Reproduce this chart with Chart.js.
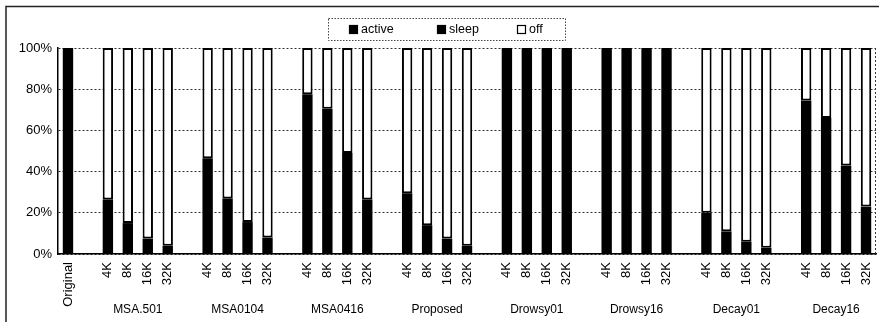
<!DOCTYPE html>
<html>
<head>
<meta charset="utf-8">
<script src="https://cdn.jsdelivr.net/npm/chart.js@4/dist/chart.umd.min.js"></script>
<style>
  html, body { margin: 0; padding: 0; background: #fff; }
  #wrap { width: 879px; height: 322px; }
</style>
</head>
<body>
<div id="wrap"><canvas id="c" width="879" height="322"></canvas></div>
<script>
// ---- data ----
const groupNames = ['MSA.501', 'MSA0104', 'MSA0416', 'Proposed', 'Drowsy01', 'Drowsy16', 'Decay01', 'Decay16'];
const sizeLabels = ['4K', '8K', '16K', '32K'];
const yTickValues = [0, 20, 40, 60, 80, 100];

// one entry per slot: Original, gap, then 8 groups of 4 separated by gaps
const activeValues = [100, null,
  26.5, 15, 7.5, 4, null,
  46.5, 27, 15.5, 8, null,
  77.5, 70.5, 49, 26.5, null,
  29.5, 14, 7.5, 4, null,
  0, 0, 0, 0, null,
  0, 0, 0, 0, null,
  20, 11, 6, 3, null,
  74.5, 66, 43, 23];
const sleepValues = [0, null,
  0, 0, 0, 0, null,
  0, 0, 0, 0, null,
  0, 0, 0, 0, null,
  0, 0, 0, 0, null,
  100, 100, 100, 100, null,
  100, 100, 100, 100, null,
  0, 0, 0, 0, null,
  0, 0, 0, 0];
const offValues = [0, null,
  73.5, 85, 92.5, 96, null,
  53.5, 73, 84.5, 92, null,
  22.5, 29.5, 51, 73.5, null,
  70.5, 86, 92.5, 96, null,
  0, 0, 0, 0, null,
  0, 0, 0, 0, null,
  80, 89, 94, 97, null,
  25.5, 34, 57, 77];

// ---- build category labels ----
const categories = ['Original', ''];
groupNames.forEach((g, i) => {
  categories.push(...sizeLabels);
  if (i < groupNames.length - 1) categories.push('');
});
const groupCenters = groupNames.map((g, i) => 2 + i * 5 + 1.5);

const FONT = "'Liberation Sans', Arial, sans-serif";

const framePlugin = {
  id: 'frame',
  beforeDraw(chart) {
    // let rotated category labels extend below their axis box (no clipping)
    if (chart.scales.x) chart.scales.x.bottom = chart.height;
    const ctx = chart.ctx;
    ctx.save();
    ctx.fillStyle = '#fff';
    ctx.fillRect(0, 0, chart.width, chart.height);
    ctx.strokeStyle = '#222';
    ctx.lineWidth = 1.5;
    ctx.beginPath();
    ctx.moveTo(6, 322); ctx.lineTo(6, 6.5); ctx.lineTo(879, 6.5);
    ctx.stroke();
    ctx.restore();
  },
  afterDatasetsDraw(chart) {
    const ctx = chart.ctx, a = chart.chartArea;
    ctx.save();
    ctx.strokeStyle = '#333';
    ctx.lineWidth = 1;
    ctx.setLineDash([2, 2]);
    ctx.beginPath();
    ctx.moveTo(a.right - 0.5, a.top); ctx.lineTo(a.right - 0.5, a.bottom);
    ctx.stroke();
    ctx.restore();
  },
  afterDraw(chart) {
    // legend box
    const ctx = chart.ctx;
    ctx.save();
    ctx.strokeStyle = '#444';
    ctx.lineWidth = 1;
    ctx.setLineDash([1.5, 1.5]);
    ctx.strokeRect(328.5, 18.5, 237, 22);
    ctx.setLineDash([]);
    const xs = [349, 437, 517];
    ctx.font = '12.5px ' + FONT;
    ctx.textBaseline = 'middle';
    chart.data.datasets.forEach((ds, i) => {
      const x = xs[i];
      ctx.fillStyle = ds.backgroundColor;
      ctx.fillRect(x, 25.5, 8, 8);
      ctx.strokeStyle = '#000';
      ctx.lineWidth = 1.2;
      ctx.strokeRect(x + 0.5, 25.5, 8, 8);
      ctx.fillStyle = '#000';
      ctx.fillText(ds.label, x + 12, 30);
    });
    ctx.restore();
  }
};

new Chart(document.getElementById('c'), {
  type: 'bar',
  data: {
    labels: categories,
    datasets: [
      { label: 'active', data: activeValues, backgroundColor: '#000', borderWidth: 0 },
      { label: 'sleep', data: sleepValues, backgroundColor: '#000', borderWidth: 0 },
      { label: 'off', data: offValues, backgroundColor: '#fff', borderColor: '#000', borderWidth: 2, borderSkipped: false }
    ]
  },
  options: {
    responsive: false,
    animation: false,
    layout: { padding: { top: 48, right: 3, bottom: 6, left: 0 } },
    datasets: { bar: { categoryPercentage: 1.0, barPercentage: 0.52 } },
    plugins: { legend: { display: false }, tooltip: { enabled: false } },
    scales: {
      x: {
        stacked: true,
        grid: { display: false, drawTicks: false },
        border: { display: true, color: '#000', width: 1.5 },
        ticks: {
          autoSkip: false, minRotation: 90, maxRotation: 90, padding: 8,
          color: '#000', font: { family: FONT, size: 13 }
        },
        afterFit(axis) { axis.height = 42; axis.paddingLeft = 0; axis.paddingRight = 0; }
      },
      x2: {
        type: 'linear',
        position: 'bottom',
        offset: false,
        min: -0.5, max: 40.5,
        grid: { display: false, drawTicks: false },
        border: { display: false },
        afterBuildTicks(axis) { axis.ticks = groupCenters.map(v => ({ value: v })); },
        ticks: {
          autoSkip: false, maxRotation: 0, padding: 6,
          color: '#000', font: { family: FONT, size: 12 },
          callback: (v) => { const i = groupCenters.indexOf(v); return i >= 0 ? groupNames[i] : ''; }
        },
        afterFit(axis) { axis.height = 20; axis.paddingLeft = 0; axis.paddingRight = 0; }
      },
      y: {
        stacked: true,
        min: 0, max: 100,
        afterBuildTicks(axis) { axis.ticks = yTickValues.map(v => ({ value: v })); },
        grid: { color: '#333', lineWidth: 1, drawTicks: false },
        border: { display: true, color: '#000', width: 1.5, dash: [2, 2] },
        ticks: {
          padding: 6, color: '#000', font: { family: FONT, size: 13 },
          callback: (v) => v + '%'
        },
        afterFit(axis) { axis.width = 58; axis.paddingTop = 0; axis.paddingBottom = 0; }
      }
    }
  },
  plugins: [framePlugin]
});
</script>
</body>
</html>
